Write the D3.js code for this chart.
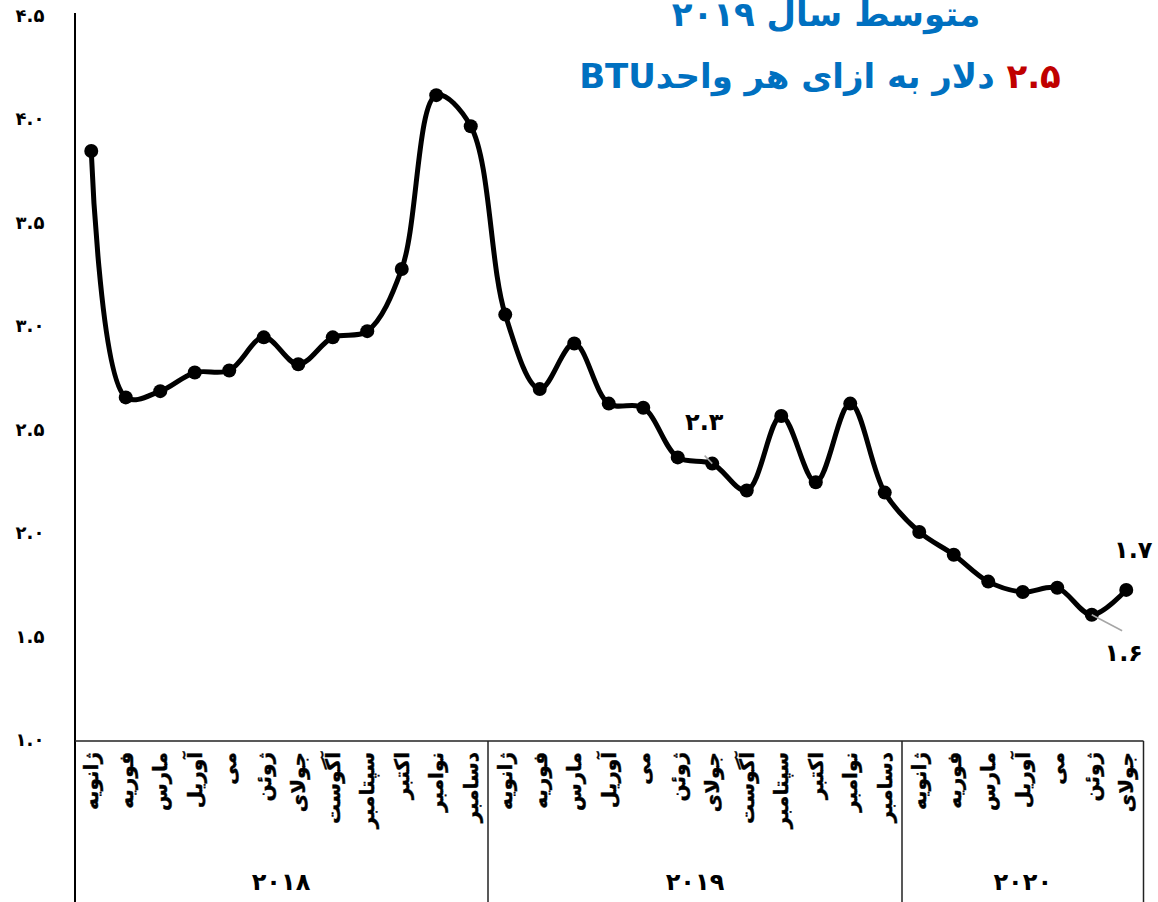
<!DOCTYPE html>
<html>
<head>
<meta charset="utf-8">
<script src="https://cdn.jsdelivr.net/npm/d3@7"></script>
<style>
  body { margin: 0; background: #fff; }
  text { font-family: "DejaVu Sans", "Noto Sans", sans-serif; font-weight: bold; }
</style>
</head>
<body>
<div id="chart"></div>
<script>
// 数据
const months = ['ژانویه','فوریه','مارس','آوریل','می','ژوئن','جولای','آگوست','سپتامبر','اکتبر','نوامبر','دسامبر'];
const years = ['۲۰۱۸','۲۰۱۹','۲۰۲۰'];
const monthsPerYear = [12, 12, 7];
const prices = [
  3.85, 2.66, 2.69, 2.78, 2.79, 2.95, 2.82, 2.95, 2.98, 3.28, 4.12, 3.97,
  3.06, 2.70, 2.92, 2.63, 2.61, 2.37, 2.34, 2.21, 2.57, 2.25, 2.63, 2.20,
  2.01, 1.90, 1.77, 1.72, 1.74, 1.61, 1.73
];
const yTicks = [1.0, 1.5, 2.0, 2.5, 3.0, 3.5, 4.0, 4.5];
// 数据标签: index, text, label position offset
const callouts = [
  {i: 18, text: '۲.۳', dx: -8, dy: -34, leader: true},
  {i: 29, text: '۱.۶', dx: 32, dy: 46, leader: true},
  {i: 30, text: '۱.۷', dx: 7, dy: -32, leader: false}
];

const W = 1158, H = 902;
const toFa = s => String(s).replace(/\d/g, d => '۰۱۲۳۴۵۶۷۸۹'[d]);

// 类别
const cats = [];
monthsPerYear.forEach((n, yi) => {
  for (let m = 0; m < n; m++) cats.push({key: yi + '-' + m, month: months[m], year: yi});
});
const data = cats.map((c, i) => ({...c, value: prices[i]}));

const x = d3.scaleBand().domain(cats.map(c => c.key)).range([74, 1143.5]).padding(0);
const y = d3.scaleLinear().domain([1, 4.5]).range([741, 16.5]);

const svg = d3.select('#chart').append('svg').attr('width', W).attr('height', H);

// 标题
const title = svg.append('g').attr('fill', '#0070C0').attr('text-anchor', 'middle');
title.append('text').attr('x', 826).attr('y', 26).attr('font-size', 34).text('متوسط سال ۲۰۱۹');
const t2 = title.append('text').attr('x', 820).attr('y', 88).attr('font-size', 34).attr('direction', 'rtl');
t2.append('tspan').attr('fill', '#C00000').text('۲.۵');
t2.append('tspan').text(' دلار به ازای هر واحدBTU');

// Y 轴
const yAxis = svg.append('g').attr('transform', 'translate(75,0)')
  .call(d3.axisLeft(y).tickValues(yTicks).tickSize(0).tickFormat(d => toFa(d.toFixed(1))));
yAxis.select('.domain').remove();
yAxis.selectAll('text').attr('x', -45).attr('dy', '0.25em').attr('text-anchor', 'middle')
  .attr('font-size', 18).attr('font-weight', 'bold').attr('fill', '#000')
  .style('font-family', '"DejaVu Sans", sans-serif');
svg.append('line').attr('x1', 75).attr('x2', 75).attr('y1', 13).attr('y2', H)
  .attr('stroke', '#000').attr('stroke-width', 2);

// X 轴底线与分组线
svg.append('line').attr('x1', 75).attr('x2', 1143.5).attr('y1', 741).attr('y2', 741)
  .attr('stroke', '#222').attr('stroke-width', 1.5);
let start = 0;
const groups = monthsPerYear.map((n, yi) => {
  const g = {year: years[yi], x0: x(cats[start].key), x1: x(cats[start + n - 1].key) + x.bandwidth()};
  start += n;
  return g;
});
svg.selectAll('line.sep').data(groups.map(g => g.x1)).join('line')
  .attr('class', 'sep')
  .attr('x1', d => d).attr('x2', d => d).attr('y1', 741).attr('y2', H)
  .attr('stroke', '#222').attr('stroke-width', 1.5);
svg.selectAll('text.year').data(groups).join('text')
  .attr('class', 'year')
  .attr('x', d => (d.x0 + d.x1) / 2).attr('y', 890)
  .attr('text-anchor', 'middle').attr('font-size', 24).attr('fill', '#000')
  .text(d => d.year);

// 月份标签（竖排）
svg.selectAll('text.month').data(cats).join('text')
  .attr('class', 'month')
  .attr('transform', d => `translate(${x(d.key) + x.bandwidth() / 2 + 7},752) rotate(-90)`)
  .attr('text-anchor', 'end').attr('font-size', 20).attr('fill', '#000')
  .attr('stroke', '#000').attr('stroke-width', 0.4)
  .text(d => d.month);

// 折线
const line = d3.line()
  .x(d => x(d.key) + x.bandwidth() / 2)
  .y(d => y(d.value))
  .curve(d3.curveCatmullRom.alpha(0.5));
svg.append('path').datum(data)
  .attr('d', line).attr('fill', 'none')
  .attr('stroke', '#000').attr('stroke-width', 5).attr('stroke-linejoin', 'round');
svg.selectAll('circle.dot').data(data).join('circle')
  .attr('class', 'dot')
  .attr('cx', d => x(d.key) + x.bandwidth() / 2)
  .attr('cy', d => y(d.value))
  .attr('r', 7).attr('fill', '#000');

// 数据标注
callouts.forEach(c => {
  const d = data[c.i];
  const px = x(d.key) + x.bandwidth() / 2, py = y(d.value);
  if (c.leader) {
    const ly = c.dy < 0 ? py + c.dy + 26 : py + c.dy - 30;
    svg.append('line').attr('x1', px).attr('y1', py)
      .attr('x2', px + c.dx * 0.95).attr('y2', ly)
      .attr('stroke', '#a6a6a6').attr('stroke-width', 1.5);
  }
  svg.append('text').attr('x', px + c.dx).attr('y', py + c.dy)
    .attr('text-anchor', 'middle').attr('font-size', 24).attr('fill', '#000')
    .text(c.text);
});
</script>
</body>
</html>
